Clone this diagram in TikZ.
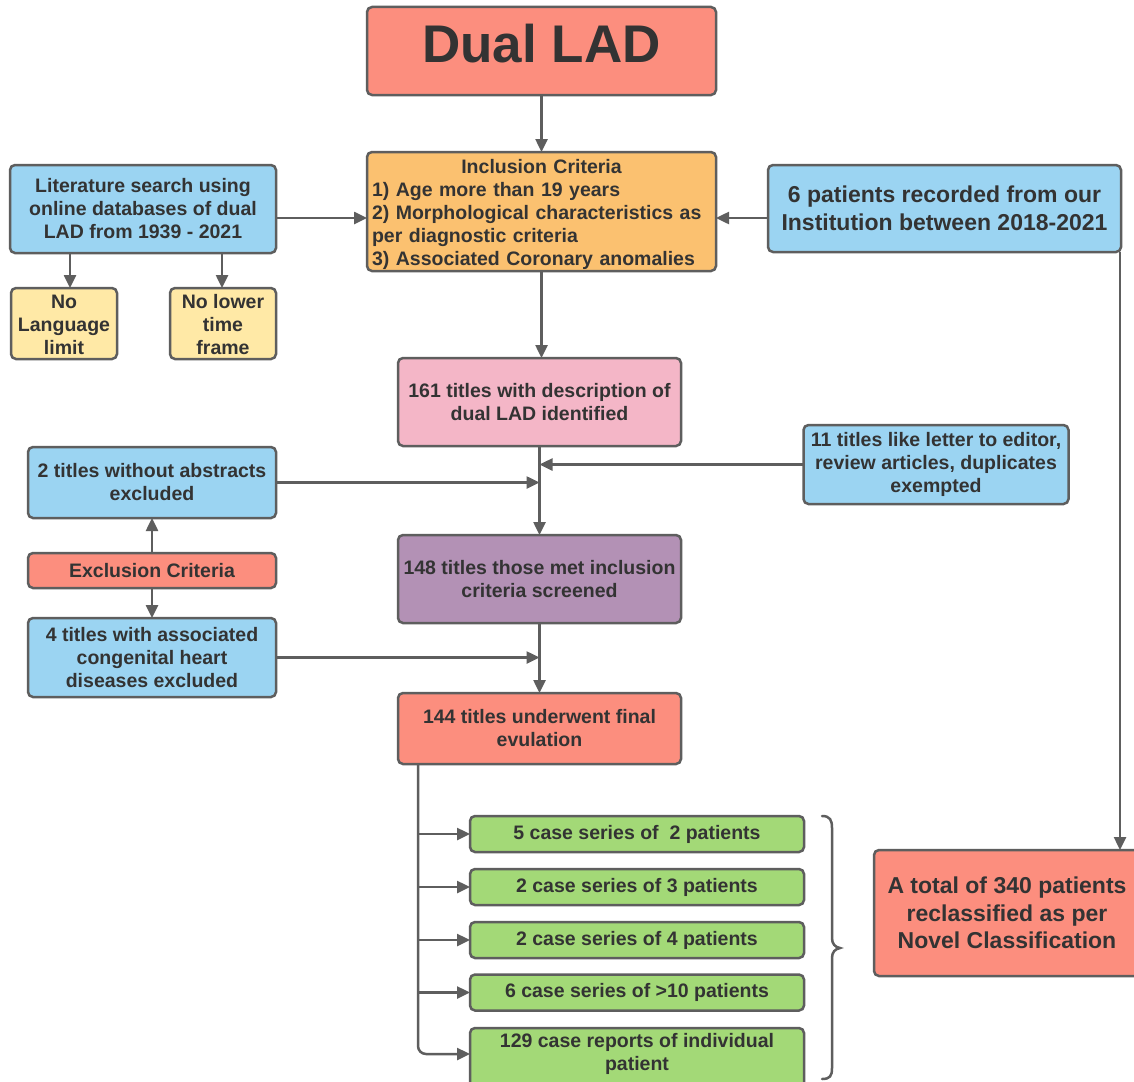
\documentclass[tikz,border=0pt]{standalone}
\usepackage{fontspec}
\setmainfont{Liberation Sans}
\usetikzlibrary{arrows.meta,calc,backgrounds}
\definecolor{bord}{HTML}{5E5E5E}
\definecolor{txt}{HTML}{333333}
\definecolor{salmon}{HTML}{FC8E7E}
\definecolor{orng}{HTML}{FBC170}
\definecolor{lblue}{HTML}{9BD4F2}
\definecolor{lyel}{HTML}{FFE9A6}
\definecolor{pinkc}{HTML}{F4B6C7}
\definecolor{purp}{HTML}{B391B5}
\definecolor{grn}{HTML}{A3D977}
\tikzset{
  fbox/.style={draw=bord, line width=2.5pt, rounded corners=5pt, text=txt, align=center,
    inner sep=0pt, outer sep=0pt, font=\bfseries\fontsize{19.5}{23}\selectfont},
  bigtxt/.style={font=\bfseries\fontsize{23}{27.5}\selectfont},
  arr/.style={draw=bord, line width=2.5pt, -{Triangle[length=13pt,width=12pt]}},
  plain/.style={draw=bord, line width=2.5pt}
}
\begin{document}
\begin{tikzpicture}[x=1pt,y=-1pt]
\useasboundingbox (0,0) rectangle (1134,1081);
\clip (0,0) rectangle (1134,1081);

% nodes
\node[fbox, fill=salmon, minimum width=349, minimum height=88, font=\bfseries\fontsize{53}{60}\selectfont] (dual) at (541.5,51) {\raisebox{16pt}{Dual LAD}};
\node[fbox, fill=orng, minimum width=349, minimum height=119, text width=339, align=left] (inc) at (541.5,211.5)
  {\makebox[339pt]{\rule{0pt}{20.5pt}Inclusion Criteria}\\1) Age more than 19 years\\2) Morphological characteristics as\\per diagnostic criteria\\3) Associated Coronary anomalies};
\node[fbox, fill=lblue, minimum width=266, minimum height=88] (lit) at (143,209)
  {Literature search using\\online databases of dual\\LAD from 1939 - 2021};
\node[fbox, fill=lyel, minimum width=106, minimum height=71] (nl) at (64,323.5) {\rule{0pt}{17pt}No\\Language\\limit};
\node[fbox, fill=lyel, minimum width=106, minimum height=71] (nlt) at (223,323.5) {\rule{0pt}{17pt}No lower\\time\\frame};
\node[fbox, bigtxt, fill=lblue, minimum width=353, minimum height=87] (pat) at (944.5,208.5)
  {6 patients recorded from our\\Institution between 2018-2021};
\node[fbox, fill=pinkc, minimum width=283, minimum height=88] (b161) at (539.5,402)
  {161 titles with description of\\dual LAD identified};
\node[fbox, fill=lblue, minimum width=265, minimum height=79] (t11) at (936,464.5)
  {11 titles like letter to editor,\\review articles, duplicates\\exempted};
\node[fbox, fill=lblue, minimum width=248, minimum height=71] (t2) at (152,482.5)
  {2 titles without abstracts\\excluded};
\node[fbox, fill=salmon, minimum width=248, minimum height=35] (exc) at (152,570.5) {Exclusion Criteria};
\node[fbox, fill=lblue, minimum width=248, minimum height=79] (t4) at (152,657.5)
  {4 titles with associated\\congenital heart\\diseases excluded};
\node[fbox, fill=purp, minimum width=283, minimum height=88] (b148) at (539.5,579)
  {148 titles those met inclusion\\criteria screened};
\node[fbox, fill=salmon, minimum width=283, minimum height=71] (b144) at (539.5,728.5)
  {144 titles underwent final\\evulation};
\node[fbox, fill=grn, minimum width=334, minimum height=36] (g1) at (637,834) {5 case series of\ \ 2 patients};
\node[fbox, fill=grn, minimum width=334, minimum height=36] (g2) at (637,887) {2 case series of 3 patients};
\node[fbox, fill=grn, minimum width=334, minimum height=36] (g3) at (637,940) {2 case series of 4 patients};
\node[fbox, fill=grn, minimum width=334, minimum height=36] (g4) at (637,992.5) {6 case series of >10 patients};
\node[fbox, draw=none, minimum width=334, minimum height=52] (g5) at (637,1054) {129 case reports of individual\\patient};
\node[fbox, bigtxt, fill=salmon, minimum width=266, minimum height=126] (tot) at (1007,913)
  {A total of 340 patients\\reclassified as per\\Novel Classification};

\begin{scope}[on background layer]
  \fill[white] (0,0) rectangle (1134,1081);
  \draw[draw=bord, line width=2.5pt, rounded corners=5pt, fill=grn]
    ([yshift=-20pt]g5.south west) |- (g5.north east) -- ([yshift=-20pt]g5.south east);
\end{scope}

% coordinates
\coordinate (ay) at (0,218);
\coordinate (xa) at (70,0);
\coordinate (xb) at (222,0);
\coordinate (tr) at ([xshift=20pt]b144.south west);
\coordinate (pr) at ([xshift=-1pt]pat.south east);

% connectors
\draw[arr] (dual) -- (inc);
\draw[arr] (inc) -- (inc |- b161.north);
\draw[arr] (b161) -- (b148);
\draw[arr] (b148) -- (b144);
\draw[arr] (lit.east |- ay) -- (inc.west |- ay);
\draw[arr] (pat.west |- ay) -- (inc.east |- ay);
\draw[arr] (lit.south -| xa) -- (nl.north -| xa);
\draw[arr] (lit.south -| xb) -- (nlt.north -| xb);
\draw[arr] (t11.west) -- (t11.west -| b161.south);
\draw[arr] (t2.east) -- (t2.east -| b161.south);
\draw[arr] (t4.east) -- (t4.east -| b148.south);
\draw[arr] (exc) -- (t2);
\draw[arr] (exc) -- (t4);
\draw[arr, rounded corners=8pt] (tr) |- (g5.west);
\foreach \g in {g1,g2,g3,g4}{\draw[arr] (tr |- \g.west) -- (\g.west);}
\draw[arr] (pr) -- (pr |- tot.north);

% brace
\draw[plain, line cap=round] (822,816) .. controls (830,816) and (832,820) .. (832,828)
  -- (832,938) .. controls (832,944) and (835,947) .. (840,948)
  .. controls (835,949) and (832,952) .. (832,958)
  -- (832,1068) .. controls (832,1076) and (830,1079) .. (822,1079);
\end{tikzpicture}
\end{document}
